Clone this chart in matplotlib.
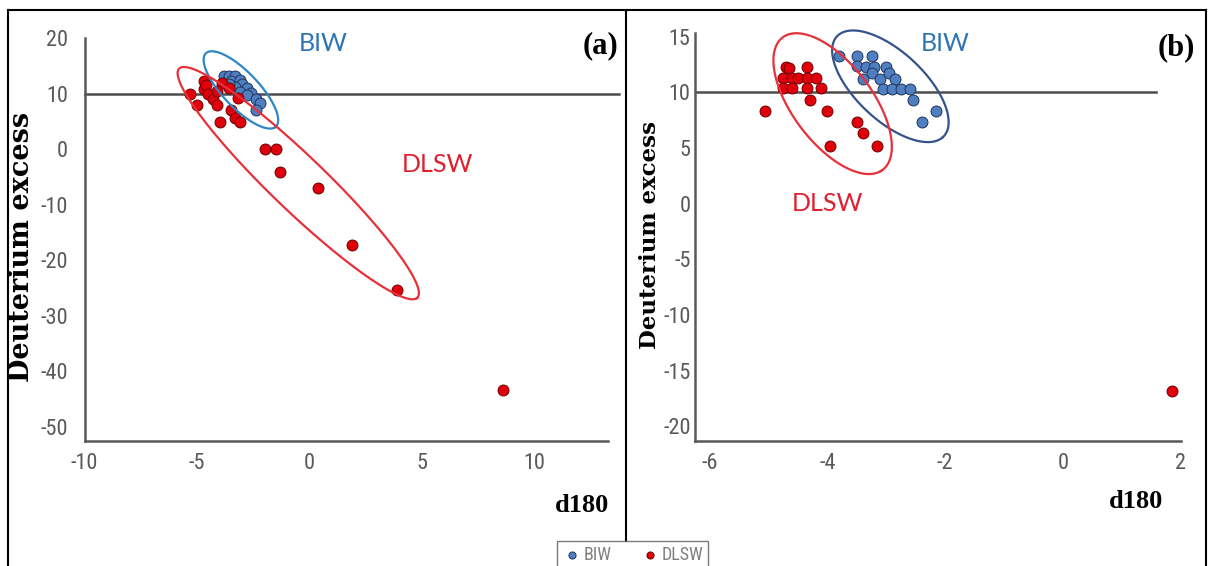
import numpy as np
import matplotlib
matplotlib.use("Agg")
import matplotlib.pyplot as plt
from matplotlib.lines import Line2D
from matplotlib import font_manager as fm

plt.rcParams["axes.unicode_minus"] = False

# panel (a) data
a_biw_x = [-3.8, -3.6, -3.3, -3.5, -3.1, -3.0, -2.8, -3.3, -3.1, -2.6, -2.8, -2.4, -2.2, -2.4, -3.6]
a_biw_y = [13.2, 13.2, 13.2, 12.3, 12.5, 11.8, 11.0, 11.2, 10.4, 10.2, 9.8, 9.0, 8.3, 7.0, 11.8]
a_dlsw_x = [-5.3, -5.0, -4.7, -4.7, -4.6, -4.5, -4.3, -4.1, -4.0, -3.9, -4.1, -3.5, -3.3, -3.1,
            -3.2, -3.6, -2.0, -1.5, -1.3, 0.4, 1.9, 3.9, 8.6]
a_dlsw_y = [10.0, 8.0, 12.3, 10.8, 11.5, 10.0, 9.0, 8.0, 5.0, 12.0, 10.5, 7.0, 5.7, 4.9,
            9.3, 11.0, 0.0, 0.0, -4.0, -7.0, -17.2, -25.3, -43.3]

# panel (b) data
b_biw_x = [-3.8, -3.5, -3.25, -3.5, -3.35, -3.2, -3.0, -3.4, -3.25, -3.1, -2.95, -2.85, -3.05,
           -2.9, -2.75, -2.6, -2.55, -2.15, -2.4]
b_biw_y = [13.3, 13.3, 13.3, 12.4, 12.3, 12.3, 12.3, 11.2, 11.7, 11.2, 11.7, 11.2, 10.3,
           10.3, 10.3, 10.3, 9.3, 8.3, 7.3]
b_dlsw_x = [-5.05, -4.7, -4.65, -4.75, -4.6, -4.75, -4.6, -4.35, -4.5, -4.35, -4.2, -4.35, -4.1,
            -4.3, -4.0, -3.5, -3.4, -3.95, -3.15, 1.85]
b_dlsw_y = [8.3, 12.3, 12.2, 11.3, 11.3, 10.4, 10.4, 12.3, 11.3, 11.3, 11.3, 10.4, 10.4,
            9.3, 8.3, 7.3, 6.3, 5.2, 5.2, -16.8]

d_ref = 10  # deuterium excess reference line

W, H = 1208, 566
fig = plt.figure(figsize=(W / 100, H / 100), dpi=100)

ax_a = fig.add_axes([84.6 / W, 1 - 440.7 / H, (607.5 - 84.6) / W, (440.7 - 38.3) / H])
ax_b = fig.add_axes([694.7 / W, 1 - 440.7 / H, (1181 - 694.7) / W, (440.7 - 33.3) / H])

# pick a narrow sans if one is there
names = {f.name for f in fm.fontManager.ttflist}
narrow = [n for n in ["Liberation Sans Narrow", "Roboto Condensed", "Open Sans Condensed",
                      "DejaVu Sans Condensed"] if n in names]
tick_font = narrow + ["DejaVu Sans"]
tick_stretch = "condensed"
blue_fill, blue_edge = "#4f7fbf", "#1f3560"
red_fill, red_edge = "#e0000b", "#6e0000"


def style_axes(ax, ypad):
    for s in ["top", "right"]:
        ax.spines[s].set_visible(False)
    for s in ["left", "bottom"]:
        ax.spines[s].set_color("#595959")
        ax.spines[s].set_linewidth(1.8)
    ax.tick_params(length=0, colors="#595959", labelsize=16)
    ax.tick_params(axis="x", pad=9)
    ax.tick_params(axis="y", pad=ypad)
    for lab in ax.get_xticklabels() + ax.get_yticklabels():
        lab.set_family(tick_font)
        lab.set_stretch(tick_stretch)
    ax.patch.set_alpha(0)


def draw_ellipse(ax, center, u, v, color):
    t = np.linspace(0, 2 * np.pi, 300)
    xs = center[0] + u[0] * np.cos(t) + v[0] * np.sin(t)
    ys = center[1] + u[1] * np.cos(t) + v[1] * np.sin(t)
    ax.plot(xs, ys, color=color, lw=1.6, zorder=5, clip_on=False)


# (a)
ax_a.set_xlim(-10, 13.25)
ax_a.set_ylim(-52.5, 20)
ax_a.set_xticks([-10, -5, 0, 5, 10])
ax_a.set_yticks(range(-50, 21, 10))
ax_a.axhline(d_ref, xmin=0, xmax=1.022, color="#4d4d4d", lw=1.8, zorder=1, clip_on=False)
sa1 = ax_a.scatter(a_biw_x, a_biw_y, s=62, c=blue_fill, edgecolors=blue_edge, linewidths=0.7,
                   zorder=3, clip_on=False)
sa2 = ax_a.scatter(a_dlsw_x, a_dlsw_y, s=62, c=red_fill, edgecolors=red_edge, linewidths=0.7,
                   zorder=4, clip_on=False)
draw_ellipse(ax_a, (-3.05, 10.7), (1.53, -6.7), (0.64, 1.92), "#2f86c6")
draw_ellipse(ax_a, (-0.5, -6.1), (5.28, -20.7), (0.95, 3.1), "#e8303a")
ax_a.text(0.62, 19.0, "BIW", color="#2e75b6", fontsize=18, family="Lato", ha="center", va="center")
ax_a.text(5.67, -2.8, "DLSW", color="#e0202e", fontsize=18, family="Lato", ha="center", va="center")
style_axes(ax_a, 12)

# (b)
ax_b.set_xlim(-6.25, 2)
ax_b.set_ylim(-21.3, 15.3)
ax_b.set_xticks([-6, -4, -2, 0, 2])
ax_b.set_yticks(range(-20, 16, 5))
ax_b.axhline(d_ref, xmin=0, xmax=0.948, color="#4d4d4d", lw=1.8, zorder=1)
ax_b.scatter(b_biw_x, b_biw_y, s=62, c=blue_fill, edgecolors=blue_edge, linewidths=0.7,
             zorder=3, clip_on=False)
ax_b.scatter(b_dlsw_x, b_dlsw_y, s=62, c=red_fill, edgecolors=red_edge, linewidths=0.7,
             zorder=4, clip_on=False)
draw_ellipse(ax_b, (-2.93, 10.54), (0.884, -4.6), (0.442, 2.0), "#34528c")
draw_ellipse(ax_b, (-3.91, 8.98), (0.82, -6.05), (0.58, 1.85), "#e8303a")
ax_b.text(-2.0, 14.34, "BIW", color="#2e75b6", fontsize=18, family="Lato", ha="center", va="center")
ax_b.text(-4.0, 0.0, "DLSW", color="#e0202e", fontsize=18, family="Lato", ha="center", va="center")
style_axes(ax_b, 3)

# labels in figure pixels
def fig_text(x, y, s, **kw):
    fig.text(x / W, 1 - y / H, s, ha="center", va="center", **kw)

fig_text(600, 46, "(a)", fontsize=22, family="Liberation Serif", weight="bold")
fig_text(1176, 48, "(b)", fontsize=22, family="Liberation Serif", weight="bold")
fig_text(582, 505, "d180", fontsize=19, family="Liberation Serif", weight="bold")
fig_text(1136, 502, "d180", fontsize=19, family="Liberation Serif", weight="bold")
fig_text(22, 247, "Deuterium excess", fontsize=19.5, family="DejaVu Serif", weight="bold", rotation=90)
fig_text(650, 235, "Deuterium excess", fontsize=16.5, family="DejaVu Serif", weight="bold", rotation=90)

# outer frame and divider
def fig_line(xs, ys):
    fig.add_artist(Line2D([x / W for x in xs], [1 - y / H for y in ys], color="black", lw=1.5))

fig_line([8, 8], [10, 566])
fig_line([8, 1206], [10, 10])
fig_line([1206, 1206], [10, 566])
fig_line([626, 626], [10, 541])

leg = fig.legend([sa1, sa2], ["BIW", "DLSW"], ncol=2, loc="upper left",
                 bbox_to_anchor=(557 / W, 1 - 541 / H), frameon=True, fancybox=False,
                 edgecolor="#595959", borderaxespad=0, handletextpad=0.05, columnspacing=1.5,
                 markerscale=0.65, handlelength=1.2, borderpad=0.25,
                 prop={"family": tick_font, "size": 13, "stretch": tick_stretch})
leg.get_frame().set_linewidth(1.0)
for t in leg.get_texts():
    t.set_color("#7f7f7f")

fig.savefig("out.png", dpi=100)
